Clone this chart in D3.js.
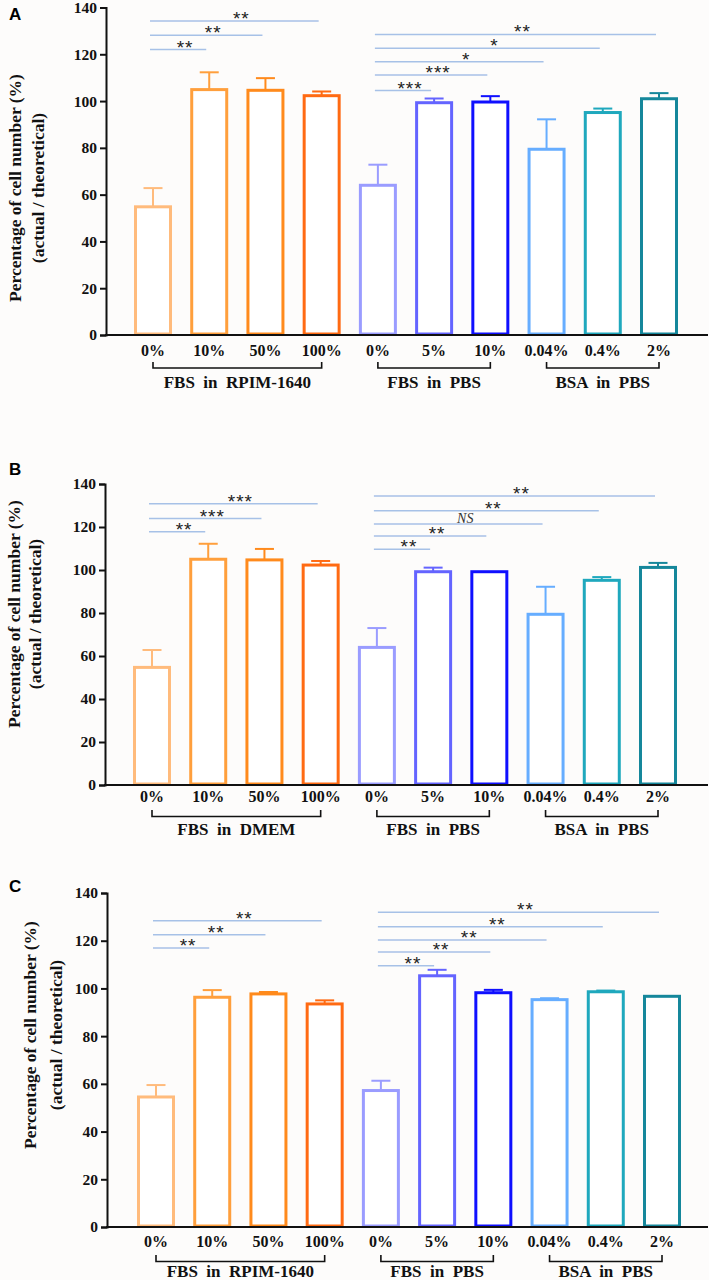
<!DOCTYPE html>
<html>
<head>
<meta charset="utf-8">
<script src="https://cdn.jsdelivr.net/npm/d3@7/dist/d3.min.js"></script>
<style>
  html, body { margin: 0; padding: 0; background: #fdfcfb; }
  svg { display: block; }
</style>
</head>
<body>
<svg id="chart" width="709" height="1280"></svg>
<script>
// ---------------- data ----------------
const categories = ["0%", "10%", "50%", "100%", "0%", "5%", "10%", "0.04%", "0.4%", "2%"];
const barPalette = ["#ffbb7c", "#ff9f3c", "#ff8a1c", "#ff6a12", "#9a9cff", "#6464ff", "#0f0fff", "#66adff", "#1fa8bd", "#15879b"];
const yTicks = [0, 20, 40, 60, 80, 100, 120, 140];
const groupRanges = [[0, 3], [4, 6], [7, 9]];

const valuesA = [54.8, 104.9, 104.6, 102.3, 64.0, 99.3, 99.6, 79.4, 95.1, 101.0];
const errorsA = [8.0, 7.4, 5.2, 1.8, 8.8, 1.8, 2.5, 12.8, 1.7, 2.4];
const groupLabelsA = ["FBS  in  RPIM-1640", "FBS  in  PBS", "BSA  in  PBS"];
const sigA = [[0, 1, 122.0, "**"], [0, 2, 128.1, "**"], [0, 3, 134.2, "**"],
              [4, 5, 104.5, "***"], [4, 6, 111.1, "***"], [4, 7, 116.8, "*"], [4, 8, 122.6, "*"], [4, 9, 128.5, "**"]];

const valuesB = [54.7, 105.0, 104.7, 102.3, 64.0, 99.2, 99.2, 79.4, 95.2, 101.2];
const errorsB = [8.1, 7.2, 5.1, 1.9, 9.0, 1.9, 0, 12.8, 1.5, 2.1];
const groupLabelsB = ["FBS  in  DMEM", "FBS  in  PBS", "BSA  in  PBS"];
const sigB = [[0, 1, 117.8, "**"], [0, 2, 123.9, "***"], [0, 3, 130.8, "***"],
              [4, 5, 109.6, "**"], [4, 6, 115.8, "**"], [4, 7, 121.4, "NS"], [4, 8, 127.6, "**"], [4, 9, 134.4, "**"]];

const valuesC = [54.5, 96.3, 97.7, 93.5, 57.2, 105.3, 98.2, 95.3, 98.6, 96.7];
const errorsC = [5.0, 3.0, 0.8, 1.5, 4.1, 2.5, 1.2, 0.6, 0.5, 0];
const groupLabelsC = ["FBS  in  RPIM-1640", "FBS  in  PBS", "BSA  in  PBS"];
const sigC = [[0, 1, 116.9, "**"], [0, 2, 122.5, "**"], [0, 3, 128.4, "**"],
              [4, 5, 109.5, "**"], [4, 6, 115.3, "**"], [4, 7, 120.3, "**"], [4, 8, 125.9, "**"], [4, 9, 131.9, "**"]];

// ---------------- layout ----------------
const panels = [
  { letter: "A", values: valuesA, errors: errorsA, groups: groupLabelsA, sig: sigA,
    axisX: 106, yTop: 7.5, y0: 335, xFirst: 153, xLast: 659,
    tickBase: 356, brTop: 362, brBot: 368, grpBase: 388, letterBase: 20,
    title1X: 15, title2X: 38, titleY: 188 },
  { letter: "B", values: valuesB, errors: errorsB, groups: groupLabelsB, sig: sigB,
    axisX: 105, yTop: 484, y0: 785, xFirst: 152, xLast: 658,
    tickBase: 802, brTop: 810, brBot: 816.5, grpBase: 835, letterBase: 475,
    title1X: 14, title2X: 35, titleY: 614 },
  { letter: "C", values: valuesC, errors: errorsC, groups: groupLabelsC, sig: sigC,
    axisX: 107, yTop: 893, y0: 1227, xFirst: 156, xLast: 662,
    tickBase: 1247, brTop: 1255, brBot: 1261.5, grpBase: 1277, letterBase: 892,
    title1X: 30, title2X: 56, titleY: 1035 }
];

const svg = d3.select("#chart");
const serif = "'Liberation Serif', 'Times New Roman', serif";
const sans = "'Liberation Sans', Arial, sans-serif";
const color = d3.scaleOrdinal().domain(d3.range(categories.length)).range(barPalette);
const barW = 35, capW = 19;

panels.forEach(p => {
  const g = svg.append("g");
  const x = d3.scalePoint().domain(d3.range(categories.length)).range([p.xFirst, p.xLast]);
  const y = d3.scaleLinear().domain([0, 140]).range([p.y0, p.yTop]);

  // panel letter
  g.append("text").attr("x", 9).attr("y", p.letterBase)
    .attr("font-family", sans).attr("font-weight", "bold").attr("font-size", 17)
    .attr("fill", "#000").text(p.letter);

  // y axis
  const ax = g.append("g").attr("transform", `translate(${p.axisX},0)`)
    .call(d3.axisLeft(y).tickValues(yTicks).tickSize(6).tickPadding(3).tickFormat(d3.format("d")));
  ax.select(".domain").attr("stroke", "#111").attr("stroke-width", 2);
  ax.selectAll(".tick line").attr("stroke", "#111").attr("stroke-width", 2);
  ax.selectAll(".tick text").attr("font-family", serif).attr("font-weight", "bold")
    .attr("font-size", 15.5).attr("fill", "#111");

  // y title
  const t = g.append("g").attr("font-family", serif).attr("font-weight", "bold")
    .attr("font-size", 17.5).attr("fill", "#111").attr("text-anchor", "middle");
  t.append("text").attr("transform", `translate(${p.title1X},${p.titleY}) rotate(-90)`)
    .attr("dy", "0.35em").text("Percentage of cell number (%)");
  t.append("text").attr("transform", `translate(${p.title2X},${p.titleY}) rotate(-90)`)
    .attr("dy", "0.35em").text("(actual / theoretical)");

  const data = categories.map((c, i) => ({ i, c, v: p.values[i], e: p.errors[i] }));

  // error bars
  const eb = g.append("g");
  data.filter(d => d.e > 0).forEach(d => {
    eb.append("line").attr("x1", x(d.i)).attr("x2", x(d.i))
      .attr("y1", y(d.v)).attr("y2", y(d.v + d.e))
      .attr("stroke", color(d.i)).attr("stroke-width", 2);
    eb.append("line").attr("x1", x(d.i) - capW / 2).attr("x2", x(d.i) + capW / 2)
      .attr("y1", y(d.v + d.e)).attr("y2", y(d.v + d.e))
      .attr("stroke", color(d.i)).attr("stroke-width", 2);
  });

  // bars
  g.append("g").selectAll("rect").data(data).join("rect")
    .attr("x", d => x(d.i) - barW / 2).attr("width", barW)
    .attr("y", d => y(d.v)).attr("height", d => y(0) - y(d.v) - 1)
    .attr("fill", "#ffffff").attr("stroke", d => color(d.i)).attr("stroke-width", 3);

  // x axis line
  g.append("line").attr("x1", p.axisX - 1).attr("x2", 708).attr("y1", y(0)).attr("y2", y(0))
    .attr("stroke", "#111").attr("stroke-width", 2);

  // category labels
  g.append("g").selectAll("text").data(data).join("text")
    .attr("x", d => x(d.i)).attr("y", p.tickBase).attr("text-anchor", "middle")
    .attr("font-family", serif).attr("font-weight", "bold").attr("font-size", 16)
    .attr("fill", "#111").text(d => d.c);

  // group brackets & labels
  groupRanges.forEach((r, k) => {
    const xa = x(r[0]), xb = x(r[1]);
    g.append("path").attr("d", `M${xa},${p.brTop}V${p.brBot}H${xb}V${p.brTop}`)
      .attr("fill", "none").attr("stroke", "#111").attr("stroke-width", 1.6);
    g.append("text").attr("x", (xa + xb) / 2).attr("y", p.grpBase).attr("text-anchor", "middle")
      .attr("font-family", serif).attr("font-weight", "bold").attr("font-size", 17)
      .attr("fill", "#111").style("white-space", "pre").text(p.groups[k]);
  });

  // significance lines
  p.sig.forEach(s => {
    const xa = x(s[0]) - 3, xb = x(s[1]) - 3, yy = y(s[2]);
    g.append("line").attr("x1", xa).attr("x2", xb).attr("y1", yy).attr("y2", yy)
      .attr("stroke", "#a7c1e7").attr("stroke-width", 1.5);
    const mid = (xa + xb) / 2 + 7;
    if (s[3] === "NS") {
      g.append("text").attr("x", mid).attr("y", yy - 1).attr("text-anchor", "middle")
        .attr("font-family", serif).attr("font-style", "italic").attr("font-size", 14)
        .attr("fill", "#333").text("NS");
    } else {
      g.append("text").attr("x", mid).attr("y", yy + 4).attr("text-anchor", "middle")
        .attr("font-family", sans).attr("font-size", 19).attr("letter-spacing", 1)
        .attr("fill", "#222").text(s[3]);
    }
  });
});
</script>
</body>
</html>
